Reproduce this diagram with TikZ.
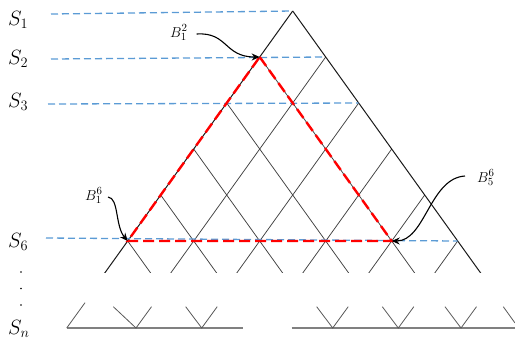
\documentclass[tikz,border=0pt]{standalone}
\usetikzlibrary{arrows.meta,calc}
\definecolor{guideblue}{RGB}{91,155,213}
\begin{document}
\begin{tikzpicture}[x=1bp,y=-1bp,
  latline/.style={draw=black!75, line width=0.75bp},
  outeredge/.style={draw=black!90, line width=1bp},
  guideline/.style={draw=guideblue, line width=1.3bp, dash pattern=on 7bp off 4bp},
  redtri/.style={draw=red, line width=2.4bp, dash pattern=on 11bp off 5bp},
  callout/.style={draw=black, line width=1.1bp, -{Stealth[length=8bp,width=7bp]}},
  slabel/.style={anchor=base west, inner sep=0pt, font=\fontsize{20}{24}\selectfont},
  blabel/.style={anchor=base west, inner sep=0pt, font=\fontsize{15.5}{18}\selectfont},
  groundline/.style={draw=black!50, line width=2.4bp},
  veeline/.style={draw=black!65, line width=0.8bp}]
\useasboundingbox (0,0) rectangle (515,340);
% lattice nodes on the two outer edges
\foreach \k in {1,...,6} {
  \coordinate (L\k) at ({292.7-(\k-1)*33},{11+(\k-1)*46});
  \coordinate (R\k) at ({292.7+(\k-1)*33},{11+(\k-1)*46});
}
\coordinate (B56) at ({127.7+4*66},241);
% lattice
\begin{scope}
  \clip (0,0) rectangle (515,272);
  \foreach \k in {2,...,6} {
    \draw[latline] (L\k) -- ++(330,460);
    \draw[latline] (R\k) -- ++(-330,460);
  }
  \draw[outeredge] (L1) -- ++(330,460);
  \draw[outeredge] (L1) -- ++(-330,460);
\end{scope}
% guide lines
\coordinate (g1) at (51,14);
\coordinate (g2) at (51,59);
\coordinate (g3) at (48,104);
\coordinate (g6) at (46,238);
\draw[guideline] (g1) -- (L1);
\draw[guideline] (g2) -- (R2);
\draw[guideline] (g3) -- (R3);
\draw[guideline] (g6) -- (R6);
% red triangle
\draw[redtri] (L2) -- (B56) -- (L6) -- cycle;
% row labels
\node[slabel] (s1) at (8,25) {$S_1$};
\node[slabel] (s2) at (8,64) {$S_2$};
\node[slabel] (s3) at (8,107) {$S_3$};
\node[slabel] (s6) at (8,247) {$S_6$};
\node[slabel] (sn) at (8,334) {$S_n$};
\fill (21,272) circle (0.9);
\fill (21,288.5) circle (0.9);
\fill (21,305) circle (0.9);
% callouts
\node[blabel] (b12) at (170,37) {$B_1^2$};
\node[blabel] (b16) at (85,200) {$B_1^6$};
\node[blabel] (b56) at (477,182) {$B_5^6$};
\draw[callout] (196.7,34) .. controls (228,32) and (224,57) .. (L2);
\draw[callout] (108,197) .. controls (119,198) and (115,226) .. (L6);
\draw[callout] (465,176) .. controls (430,178) and (425,241) .. (B56);
% bottom row S_n
\draw[groundline] (66.7,328) -- (242.7,328);
\draw[groundline] (291.7,328) -- (515,328);
\draw[veeline] (66.7,328) -- (85,302.7);
\draw[veeline] (113.3,306.7) -- (136,328) -- (151.5,306.7);
\foreach \v in {201.7,332.7,398.3,461} {
  \draw[veeline] ({\v-16},306.7) -- (\v,328) -- ({\v+15.5},306.7);
}
\draw[veeline] (503.3,306.7) -- (515,323);
\end{tikzpicture}
\end{document}
